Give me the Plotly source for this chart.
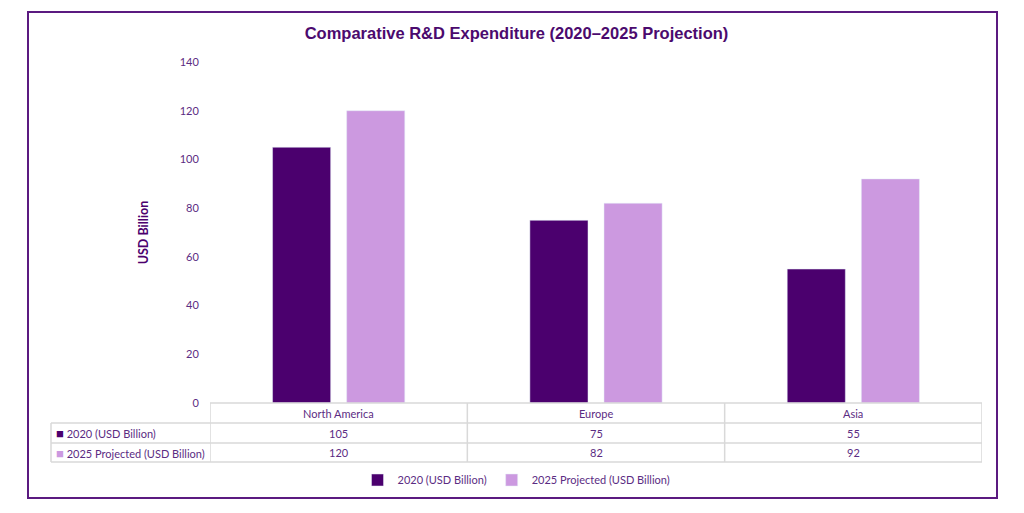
import plotly.graph_objects as go

regions = ["North America", "Europe", "Asia"]
series_names = ["2020 (USD Billion)", "2025 Projected (USD Billion)"]
values_2020 = [105, 75, 55]
values_2025 = [120, 82, 92]
y_ticks = [0, 20, 40, 60, 80, 100, 120, 140]

dark = "#4B006E"
light = "#CC99E0"
text_col = "#5B2C83"
grid = "#D9D9D9"
font = "Lato, Open Sans, sans-serif"

# page geometry (pixels) -> paper coords
L, R, T, B = 51, 982, 62, 462
W, H = 1024, 513


def px(x):
    return (x - L) / (R - L)


def py(y):
    return (B - y) / (B - T)


fig = go.Figure()
fig.add_trace(go.Bar(x=regions, y=values_2020, name=series_names[0], marker_color=dark))
fig.add_trace(go.Bar(x=regions, y=values_2025, name=series_names[1], marker_color=light))

shapes = []
# outer frame
shapes.append(dict(type="rect", xref="paper", yref="paper", x0=px(28), x1=px(997),
                   y0=py(498), y1=py(12), line=dict(color="#5B1A80", width=2)))
# table horizontal lines
shapes.append(dict(type="line", xref="x", yref="paper", x0=-0.5, x1=2.5,
                   y0=py(403), y1=py(403), line=dict(color=grid, width=1.5)))
for yy in [423, 443, 462]:
    shapes.append(dict(type="line", xref="paper", yref="paper", x0=px(51), x1=1,
                       y0=py(yy), y1=py(yy), line=dict(color=grid, width=1.5)))
# table vertical lines
for xx in [-0.5, 0.5, 1.5, 2.5]:
    shapes.append(dict(type="line", xref="x", yref="paper", x0=xx, x1=xx,
                       y0=py(462), y1=py(403), line=dict(color=grid, width=1.5)))
shapes.append(dict(type="line", xref="paper", yref="paper", x0=px(51), x1=px(51),
                   y0=py(462), y1=py(423), line=dict(color=grid, width=1.5)))

annotations = []
cell_font = dict(family=font, size=11, color=text_col)
for i, r in enumerate(regions):
    for txt, yy in [(r, 413), (str(values_2020[i]), 433), (str(values_2025[i]), 452.5)]:
        annotations.append(dict(x=r, xref="x", y=py(yy), yref="paper", text=txt,
                                xanchor="center", yanchor="middle",
                                showarrow=False, font=cell_font))
for name, col, yy in [(series_names[0], dark, 433), (series_names[1], light, 452.5)]:
    annotations.append(dict(x=px(54), xref="paper", y=py(yy), yref="paper",
                            xanchor="left", yanchor="middle",
                            text=f"<span style='color:{col};font-size:13px'>■</span> {name}",
                            showarrow=False, font=cell_font))

fig.update_layout(
    width=W, height=H,
    margin=dict(l=L, r=W - R, t=T, b=H - B),
    paper_bgcolor="white", plot_bgcolor="white",
    barmode="group", bargap=0.424, bargroupgap=0.216,
    title=dict(text="<b>Comparative R&D Expenditure (2020–2025 Projection)</b>",
               x=0.5, xref="paper", y=1 - 33 / H, yanchor="middle",
               font=dict(family="Liberation Sans Narrow, Arial Narrow, sans-serif",
                         size=16.5, color="#4B0A6E")),
    xaxis=dict(domain=[px(210), 1], range=[-0.5, 2.5], showticklabels=False,
               showline=False, showgrid=False, zeroline=False, ticks=""),
    yaxis=dict(domain=[py(403), 1], range=[0, 140], tickvals=y_ticks,
               showgrid=False, zeroline=False, showline=False, ticks="outside",
               ticklen=8, tickcolor="rgba(0,0,0,0)",
               tickfont=dict(family=font, size=11, color=text_col),
               title=dict(text="<b>USD Billion</b>", standoff=28,
                          font=dict(family=font, size=12.5, color=dark))),
    legend=dict(orientation="h", x=0.5, xanchor="center", y=py(480), yanchor="middle",
                font=dict(family=font, size=11, color=text_col), traceorder="normal",
                itemwidth=30),
    shapes=shapes,
    annotations=annotations,
)

fig.write_html("out.html", config={"displayModeBar": False},
               post_script="document.body.style.margin='0';")
